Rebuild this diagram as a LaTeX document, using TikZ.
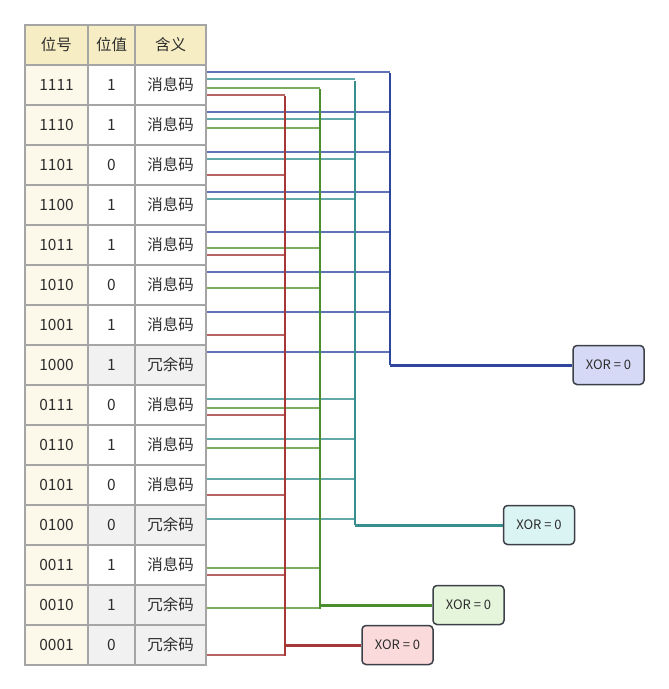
\documentclass[tikz,border=0pt]{standalone}
\usepackage{fontspec}
\setmainfont{Noto Sans CJK SC}
\usepackage{xcolor}
\usepackage{tikz}
\usetikzlibrary{calc}
\definecolor{headyellow}{RGB}{246,237,196}
\definecolor{poscream}{RGB}{252,249,234}
\definecolor{checkgray}{RGB}{241,241,241}
\definecolor{cellgray}{RGB}{165,165,165}
\definecolor{textgray}{RGB}{45,45,45}
\definecolor{boxedge}{RGB}{60,64,72}
\definecolor{blueline}{RGB}{95,115,185}
\definecolor{bluebus}{RGB}{46,70,160}
\definecolor{tealline}{RGB}{98,168,168}
\definecolor{tealbus}{RGB}{56,142,142}
\definecolor{greenline}{RGB}{122,172,94}
\definecolor{greenbus}{RGB}{76,142,46}
\definecolor{redline}{RGB}{185,100,100}
\definecolor{redbus}{RGB}{166,56,56}
\definecolor{xorblue}{RGB}{214,217,246}
\definecolor{xorteal}{RGB}{218,243,243}
\definecolor{xorgreen}{RGB}{228,245,220}
\definecolor{xorred}{RGB}{250,218,218}

\begin{document}
\begin{tikzpicture}[x=1pt, y=-1pt, font=\fontsize{15.5}{18}\selectfont,
    cell/.style={draw=cellgray, line width=1.6pt, minimum height=40pt, inner sep=0,
                 text=textgray},
    headcell/.style={cell, fill=headyellow},
    poscell/.style={cell, fill=poscream, minimum width=63pt},
    infocell/.style={cell, fill=white},
    checkcell/.style={cell, fill=checkgray},
    xorbox/.style={draw=boxedge, line width=1.5pt, rounded corners=4pt,
                   minimum width=71pt, minimum height=39pt, inner sep=0,
                   text=textgray, font=\fontsize{13}{15}\selectfont},
    hline/.style={line width=2pt},
    bus/.style={line width=2.5pt},
    outline/.style={line width=3pt}]

    \useasboundingbox (0,0) rectangle (669,689);

    % header
    \node[headcell, minimum width=63pt] (hpos) at (56.5,45) {位号};
    \node[headcell, minimum width=47pt] (hval) at (111.5,45) {位值};
    \node[headcell, minimum width=71pt] (hmean) at (170.5,45) {含义};

    % rows
    \foreach \pos/\val/\txt/\st [count=\r] in {
        1111/1/消息码/infocell, 1110/1/消息码/infocell, 1101/0/消息码/infocell,
        1100/1/消息码/infocell, 1011/1/消息码/infocell, 1010/0/消息码/infocell,
        1001/1/消息码/infocell, 1000/1/冗余码/checkcell, 0111/0/消息码/infocell,
        0110/1/消息码/infocell, 0101/0/消息码/infocell, 0100/0/冗余码/checkcell,
        0011/1/消息码/infocell, 0010/1/冗余码/checkcell, 0001/0/冗余码/checkcell}{
        \node[poscell] (p\r) at (56.5,45+40*\r) {\pos};
        \node[\st, minimum width=47pt] (v\r) at (111.5,45+40*\r) {\val};
        \node[\st, minimum width=71pt] (m\r) at (170.5,45+40*\r) {\txt};
    }

    % check results
    \node[xorbox, fill=xorblue] (xorB) at (608.5,365) {XOR = 0};
    \node[xorbox, fill=xorteal] (xorT) at (539,525) {XOR = 0};
    \node[xorbox, fill=xorgreen] (xorG) at (468.5,605) {XOR = 0};
    \node[xorbox, fill=xorred] (xorR) at (397.5,645) {XOR = 0};

    % bus ends
    \coordinate (bT) at (390,73);  \coordinate (bB) at (390,365);
    \coordinate (tT) at (355,81);  \coordinate (tB) at (355,525);
    \coordinate (gT) at (320,89);  \coordinate (gB) at (320,609);
    \coordinate (rT) at (285,96);  \coordinate (rB) at (285,656);

    % taps
    \foreach \r in {1,...,8}
        \draw[hline, blueline] ([yshift=-8pt]m\r.north east) coordinate (s) -- (s -| bT);
    \foreach \r in {1,2,3,4,9,10,11,12}
        \draw[hline, tealline] ([yshift=-15pt]m\r.north east) coordinate (s) -- (s -| tT);
    \foreach \r in {1,2,5,6,9,10,13,14}
        \draw[hline, greenline] ([yshift=-24pt]m\r.north east) coordinate (s) -- (s -| gT);
    \foreach \r in {1,3,5,7,9,11,13,15}
        \draw[hline, redline] ([yshift=-31pt]m\r.north east) coordinate (s) -- (s -| rT);

    % buses
    \draw[bus, redbus] (rT) -- (rB);
    \draw[outline, redbus] (rT |- xorR.west) -- (xorR.west);
    \draw[bus, greenbus] (gT) -- (gB);
    \draw[outline, greenbus] (gT |- xorG.west) -- (xorG.west);
    \draw[bus, tealbus] (tT) -- (tB);
    \draw[outline, tealbus] (tB) -- (xorT.west);
    \draw[bus, bluebus] (bT) -- (bB);
    \draw[outline, bluebus] (bB) -- (xorB.west);
\end{tikzpicture}
\end{document}
